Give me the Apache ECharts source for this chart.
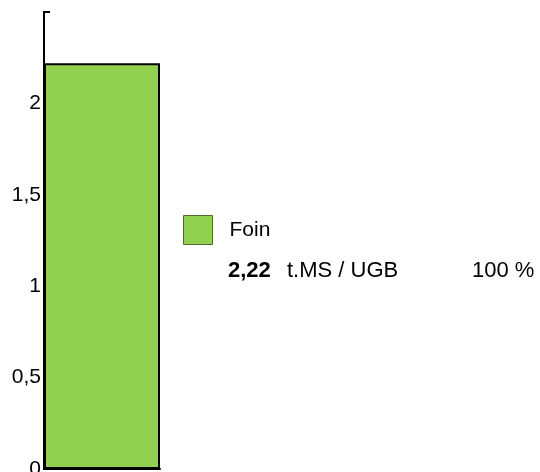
<!DOCTYPE html>
<html><head><meta charset="utf-8">
<script src="https://cdn.jsdelivr.net/npm/echarts@6/dist/echarts.min.js"></script>
<style>html,body{margin:0;padding:0;background:#fff}#c{width:540px;height:472px}</style>
</head><body><div id="c"></div>
<script>
const categories = ['Foin'];
const values = [2.22];
const shares = ['100 %'];
const unit = 't.MS / UGB';
const yTicks = [0, 0.5, 1, 1.5, 2, 2.5];
const fmt = v => String(v).replace('.', ',');

const chart = echarts.init(document.getElementById('c'));
chart.setOption({
  animation: false,
  grid: {left: 44, right: 380, top: 12, bottom: 3, containLabel: false, outerBoundsMode: 'none'},
  legend: {
    data: categories, left: 178, top: 210, itemWidth: 29, itemHeight: 29, orient: 'vertical',
    icon: 'rect',
    itemStyle: {color: '#92D050', borderColor: '#4d6b2c', borderWidth: 1},
    textStyle: {fontFamily: 'Liberation Sans', fontSize: 21, color: '#000', padding: [0, 0, 0, 12]}
  },
  xAxis: {
    type: 'category', data: categories,
    axisLine: {lineStyle: {color: '#000', width: 2}},
    axisTick: {show: false}, axisLabel: {show: false}
  },
  yAxis: {
    type: 'value', min: 0, max: 2.5, interval: 0.5,
    splitLine: {show: false},
    axisLine: {show: true, lineStyle: {color: '#000', width: 2}},
    axisTick: {show: false},
    axisLabel: {
      fontFamily: 'Liberation Sans', fontSize: 21, color: '#000', margin: 3,
      formatter: v => (v === 2.5 ? '' : fmt(v))
    }
  },
  series: [{
    name: categories[0], type: 'bar', data: values, barWidth: '100%',
    itemStyle: {color: '#92D050', borderColor: '#000', borderWidth: 2}
  }]
});

const axisTopY = chart.convertToPixel({yAxisIndex: 0}, yTicks[yTicks.length - 1]);
chart.setOption({
  graphic: [
    {type: 'line', shape: {x1: 43, y1: axisTopY, x2: 50, y2: axisTopY}, style: {stroke: '#000', lineWidth: 2}},
    {type: 'text', x: 228, y: 271, style: {text: fmt(values[0]), font: 'bold 22px "Liberation Sans"', fill: '#000', verticalAlign: 'middle'}},
    {type: 'text', x: 287, y: 271, style: {text: unit, font: '22px "Liberation Sans"', fill: '#000', verticalAlign: 'middle'}},
    {type: 'text', x: 472, y: 271, style: {text: shares[0], font: '22px "Liberation Sans"', fill: '#000', verticalAlign: 'middle'}}
  ]
});
</script></body></html>
